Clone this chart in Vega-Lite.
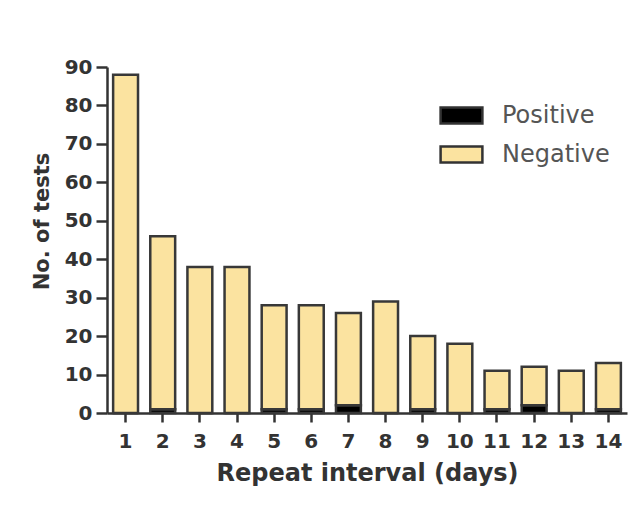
{
  "$schema": "https://vega.github.io/schema/vega-lite/v6.json",
  "autosize": "none",
  "width": 520,
  "height": 346,
  "padding": {"left": 107, "top": 67, "right": 13, "bottom": 110},
  "background": "white",
  "data": {
    "values": [
      {"day": 1, "result": "Positive", "count": 0},
      {"day": 1, "result": "Negative", "count": 88},
      {"day": 2, "result": "Positive", "count": 1},
      {"day": 2, "result": "Negative", "count": 45},
      {"day": 3, "result": "Positive", "count": 0},
      {"day": 3, "result": "Negative", "count": 38},
      {"day": 4, "result": "Positive", "count": 0},
      {"day": 4, "result": "Negative", "count": 38},
      {"day": 5, "result": "Positive", "count": 1},
      {"day": 5, "result": "Negative", "count": 27},
      {"day": 6, "result": "Positive", "count": 1},
      {"day": 6, "result": "Negative", "count": 27},
      {"day": 7, "result": "Positive", "count": 2},
      {"day": 7, "result": "Negative", "count": 24},
      {"day": 8, "result": "Positive", "count": 0},
      {"day": 8, "result": "Negative", "count": 29},
      {"day": 9, "result": "Positive", "count": 1},
      {"day": 9, "result": "Negative", "count": 19},
      {"day": 10, "result": "Positive", "count": 0},
      {"day": 10, "result": "Negative", "count": 18},
      {"day": 11, "result": "Positive", "count": 1},
      {"day": 11, "result": "Negative", "count": 10},
      {"day": 12, "result": "Positive", "count": 2},
      {"day": 12, "result": "Negative", "count": 10},
      {"day": 13, "result": "Positive", "count": 0},
      {"day": 13, "result": "Negative", "count": 11},
      {"day": 14, "result": "Positive", "count": 1},
      {"day": 14, "result": "Negative", "count": 12}
    ]
  },
  "mark": {"type": "bar", "stroke": "#383838", "strokeWidth": 2.5},
  "encoding": {
    "x": {
      "field": "day", "type": "ordinal",
      "scale": {"paddingInner": 0.33, "paddingOuter": 0.165},
      "axis": {
        "title": "Repeat interval (days)",
        "labelAngle": 0,
        "labelFont": "DejaVu Sans", "labelFontWeight": "bold", "labelFontSize": 20, "labelColor": "#333333",
        "titleFont": "DejaVu Sans", "titleFontWeight": "bold", "titleFontSize": 24, "titleColor": "#333333",
        "titlePadding": 10,
        "domainColor": "#333333", "domainWidth": 2.5,
        "tickColor": "#333333", "tickWidth": 2.5, "tickSize": 9,
        "labelPadding": 9
      }
    },
    "y": {
      "field": "count", "type": "quantitative", "aggregate": "sum", "stack": "zero",
      "scale": {"domain": [0, 90], "nice": false},
      "axis": {
        "title": "No. of tests",
        "values": [0, 10, 20, 30, 40, 50, 60, 70, 80, 90],
        "grid": false,
        "labelFont": "DejaVu Sans", "labelFontWeight": "bold", "labelFontSize": 20, "labelColor": "#333333",
        "titleFont": "DejaVu Sans", "titleFontWeight": "bold", "titleFontSize": 21, "titleColor": "#333333",
        "titlePadding": 12,
        "titleY": 154,
        "domainColor": "#333333", "domainWidth": 2.5,
        "tickColor": "#333333", "tickWidth": 2.5, "tickSize": 11,
        "labelPadding": 4
      }
    },
    "color": {
      "field": "result", "type": "nominal",
      "scale": {"domain": ["Positive", "Negative"], "range": ["#000000", "#FBE3A0"]},
      "legend": {
        "title": null,
        "orient": "none",
        "legendX": 334,
        "legendY": 28,
        "symbolType": "M-1.1,-0.42H1.1V0.42H-1.1Z",
        "symbolSize": 1444,
        "symbolStrokeColor": "#333333",
        "symbolStrokeWidth": 2.5,
        "labelFont": "DejaVu Sans", "labelFontSize": 24, "labelColor": "#555555",
        "rowPadding": 5,
        "labelOffset": 20,
        "padding": 0
      }
    },
    "order": {"field": "result", "sort": "descending"}
  },
  "config": {"view": {"stroke": null}}
}
